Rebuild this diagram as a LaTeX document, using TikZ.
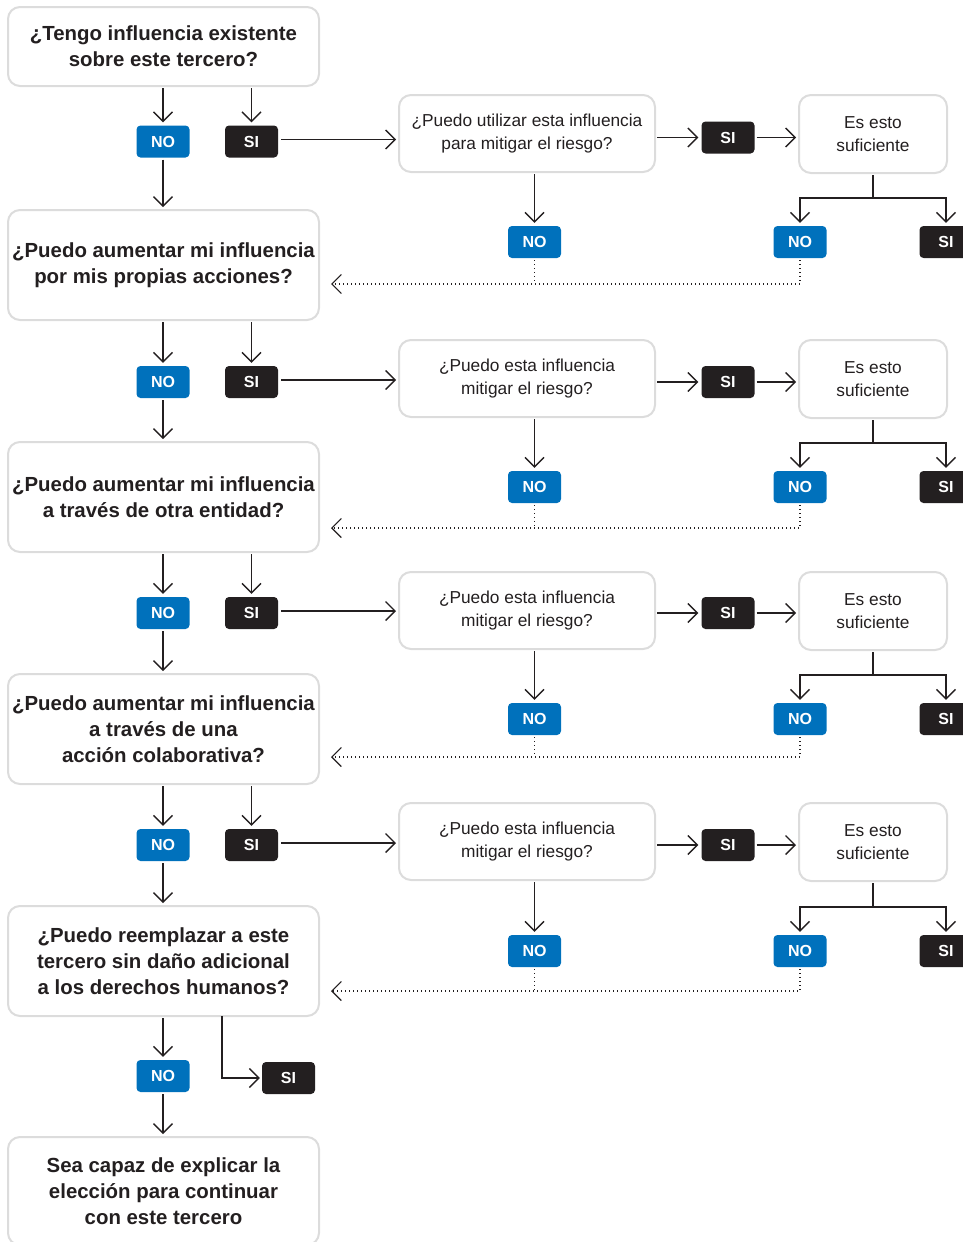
\documentclass[tikz,border=0pt]{standalone}
\usepackage{fontspec}
\setmainfont{Liberation Sans}
\usetikzlibrary{arrows.meta,calc}
\definecolor{ink}{HTML}{231F20}
\definecolor{noblue}{HTML}{0071BC}
\definecolor{frame}{HTML}{DCDCDC}
\begin{document}
\begin{tikzpicture}[x=1pt,y=-1pt,
  qbox/.style={draw=frame,line width=2pt,rounded corners=12pt,fill=white,align=center,text=ink,inner sep=0pt},
  bigq/.style={qbox,minimum width=311pt,font=\fontsize{20.4}{26}\selectfont\bfseries},
  midq/.style={qbox,minimum width=256pt,minimum height=77pt,font=\fontsize{17.3}{23.5}\selectfont},
  estoq/.style={qbox,minimum width=148pt,minimum height=78pt,font=\fontsize{17.3}{23.5}\selectfont},
  badge/.style={rounded corners=4pt,minimum width=53pt,minimum height=32pt,inner sep=0pt,text=white,font=\fontsize{16}{16}\selectfont\bfseries},
  nob/.style={badge,fill=noblue},
  sib/.style={badge,fill=ink},
  arr/.style={draw=ink,line width=1.4pt,-{Straight Barb[length=9.5pt,width=19pt]},shorten >=3pt},
  ln/.style={draw=ink,line width=1.4pt},
  dotl/.style={draw=ink,line width=1.2pt,dash pattern=on 1.2pt off 2.8pt}]
\useasboundingbox (0,0) rectangle (963,1242);
\clip (0,0) rectangle (963,1242);

% left column questions
\node[bigq,minimum height=79pt] (q1) at (163.5,46.5) {¿Tengo influencia existente\\sobre este tercero?};
\node[bigq,minimum height=110pt] (q2) at (163.5,265) {¿Puedo aumentar mi influencia\\por mis propias acciones?};
\node[bigq,minimum height=110pt] (q3) at (163.5,497) {¿Puedo aumentar mi influencia\\a través de otra entidad?};
\node[bigq,minimum height=110pt] (q4) at (163.5,729) {¿Puedo aumentar mi influencia\\a través de una\\acción colaborativa?};
\node[bigq,minimum height=110pt] (q5) at (163.5,961) {¿Puedo reemplazar a este\\tercero sin daño adicional\\a los derechos humanos?};
\node[bigq,minimum height=108pt] (q6) at (163.5,1191) {Sea capaz de explicar la\\elección para continuar\\con este tercero};

% left badges
\node[nob] (n1) at (163,141.5) {NO};
\node[sib] (s1) at (251.5,141.5) {SI};
\node[nob] (n2) at (163,382) {NO};
\node[sib] (s2) at (251.5,382) {SI};
\node[nob] (n3) at (163,613) {NO};
\node[sib] (s3) at (251.5,613) {SI};
\node[nob] (n4) at (163,845) {NO};
\node[sib] (s4) at (251.5,845) {SI};
\node[nob] (n5) at (163,1076) {NO};
\node[sib] (s5) at (288.5,1078) {SI};

% middle questions
\node[midq] (m1) at (527,133.5) {¿Puedo utilizar esta influencia\\para mitigar el riesgo?};
\node[midq] (m2) at (527,378.5) {¿Puedo esta influencia\\mitigar el riesgo?};
\node[midq] (m3) at (527,610.5) {¿Puedo esta influencia\\mitigar el riesgo?};
\node[midq] (m4) at (527,841.5) {¿Puedo esta influencia\\mitigar el riesgo?};

% SI between
\node[sib] (t1) at (728,137.5) {SI};
\node[sib] (t2) at (728,382) {SI};
\node[sib] (t3) at (728,613) {SI};
\node[sib] (t4) at (728,845) {SI};

% Es esto suficiente
\node[estoq] (e1) at (873,134) {Es esto\\suficiente};
\node[estoq] (e2) at (873,379) {Es esto\\suficiente};
\node[estoq] (e3) at (873,611) {Es esto\\suficiente};
\node[estoq] (e4) at (873,842) {Es esto\\suficiente};

% lower badges
\foreach \i/\y in {1/242,2/487,3/719,4/951}{
  \node[nob] (a\i) at (534.5,\y) {NO};
  \node[nob] (b\i) at (800,\y) {NO};
  \node[sib] (c\i) at (946,\y) {SI};
}

% coordinates
\coordinate (br1) at (873,198);
\coordinate (br2) at (873,443);
\coordinate (br3) at (873,675);
\coordinate (br4) at (873,907);
\coordinate (d1) at (331,284);
\coordinate (d2) at (331,528);
\coordinate (d3) at (331,757);
\coordinate (d4) at (331,991);
\coordinate (k5) at (222,1016);

% connectors rows 1-4
\foreach \i/\j in {1/2,2/3,3/4,4/5}{
  \draw[arr,shorten <=1pt] (q\i.south -| n\i) -- (n\i.north);
  \draw[arr,shorten <=1pt] (q\i.south -| s\i) -- (s\i.north);
  \draw[arr,shorten <=2pt,shorten >=2pt] (n\i.south) -- (n\i |- q\j.north);
  \draw[arr,shorten <=3pt,shorten >=2pt] ([yshift=2pt]s\i.east) -- ([yshift=2pt]s\i.east -| m\i.west);
  \draw[arr,shorten <=1pt] (m\i.east |- t\i) -- (t\i.west);
  \draw[arr,shorten <=2pt,shorten >=2pt] (t\i.east) -- (t\i.east -| e\i.west);
  \draw[arr,shorten <=1pt] (m\i.south -| a\i) -- (a\i.north);
  \draw[ln,shorten <=1pt] (e\i.south) -- (br\i);
  \draw[arr] (br\i) -| (b\i.north);
  \draw[arr] (br\i) -| (c\i.north);
  \draw[dotl,shorten <=2pt] (a\i.south) -- (a\i.south |- d\i);
  \draw[dotl,shorten <=2pt,-{Straight Barb[length=9.5pt,width=19pt]}] (b\i.south) |- (d\i);
}

% row 5
\draw[arr,shorten <=1pt] (q5.south -| n5) -- (n5.north);
\draw[arr,shorten <=2pt,shorten >=2pt] (n5.south) -- (n5 |- q6.north);
\draw[arr,shorten >=2pt] (k5) |- (s5.west);
\end{tikzpicture}
\end{document}
